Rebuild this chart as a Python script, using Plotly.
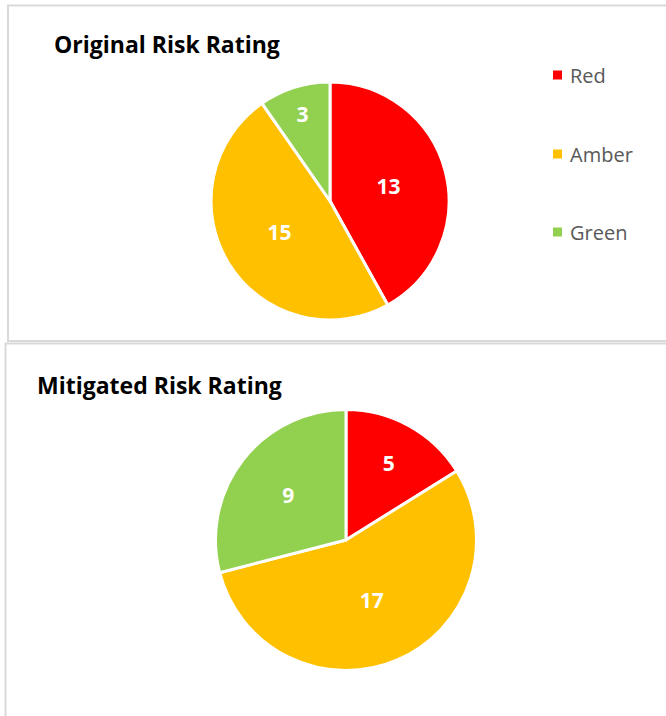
import plotly.graph_objects as go

# data
categories = ['Red', 'Amber', 'Green']
original_counts = [13, 15, 3]
mitigated_counts = [5, 17, 9]
colors = ['#FF0000', '#FFC000', '#92D050']

W, H = 666, 716


def px_x(x):
    return x / W


def px_y(y):
    return 1 - y / H


fig = go.Figure()

# top pie
fig.add_trace(go.Pie(
    labels=categories, values=original_counts,
    sort=False, direction='clockwise', rotation=0,
    marker=dict(colors=colors, line=dict(color='white', width=3)),
    textinfo='value', textposition='inside', insidetextorientation='horizontal',
    textfont=dict(family='Open Sans', size=21, color='white', weight='bold'),
    domain=dict(x=[px_x(211), px_x(449)], y=[px_y(320), px_y(82)]),
    showlegend=False, hoverinfo='label+value',
))

# bottom pie
fig.add_trace(go.Pie(
    labels=categories, values=mitigated_counts,
    sort=False, direction='clockwise', rotation=0,
    marker=dict(colors=colors, line=dict(color='white', width=3)),
    textinfo='value', textposition='inside', insidetextorientation='horizontal',
    textfont=dict(family='Open Sans', size=21, color='white', weight='bold'),
    domain=dict(x=[px_x(215.5), px_x(476.5)], y=[px_y(670.5), px_y(409.5)]),
    showlegend=False, hoverinfo='label+value',
))

shapes = [
    # chart area borders
    dict(type='rect', xref='paper', yref='paper',
         x0=px_x(8), x1=px_x(700), y0=px_y(341), y1=px_y(5.5),
         line=dict(color='#D9D9D9', width=2), fillcolor='rgba(0,0,0,0)'),
    dict(type='rect', xref='paper', yref='paper',
         x0=px_x(5.5), x1=px_x(700), y0=px_y(740), y1=px_y(343.5),
         line=dict(color='#D9D9D9', width=2), fillcolor='rgba(0,0,0,0)'),
]

annotations = [
    dict(text='<b>Original Risk Rating</b>', x=px_x(52), y=px_y(44),
         xref='paper', yref='paper', xanchor='left', yanchor='middle',
         showarrow=False, font=dict(family='Open Sans', size=23, color='black')),
    dict(text='<b>Mitigated Risk Rating</b>', x=px_x(35), y=px_y(385),
         xref='paper', yref='paper', xanchor='left', yanchor='middle',
         showarrow=False, font=dict(family='Open Sans', size=23, color='black')),
]

# legend drawn by hand so the item spacing matches
legend_y = [75, 154, 232]
for name, col, ly in zip(categories, colors, legend_y):
    shapes.append(dict(type='rect', xref='paper', yref='paper',
                       x0=px_x(553), x1=px_x(562), y0=px_y(ly + 4.5), y1=px_y(ly - 4.5),
                       line=dict(width=0), fillcolor=col))
    annotations.append(dict(text=name, x=px_x(568), y=px_y(ly),
                            xref='paper', yref='paper', xanchor='left', yanchor='middle',
                            showarrow=False,
                            font=dict(family='Open Sans', size=20, color='#595959')))

fig.update_layout(
    width=W, height=H,
    margin=dict(l=0, r=0, t=0, b=0),
    paper_bgcolor='white', plot_bgcolor='white',
    shapes=shapes, annotations=annotations,
    uniformtext=dict(minsize=21, mode='show'),
)

# drop the default page margin so the figure sits at the window corner
fig.write_html('out.html', config={'displayModeBar': False},
               post_script="document.body.style.margin='0';")
